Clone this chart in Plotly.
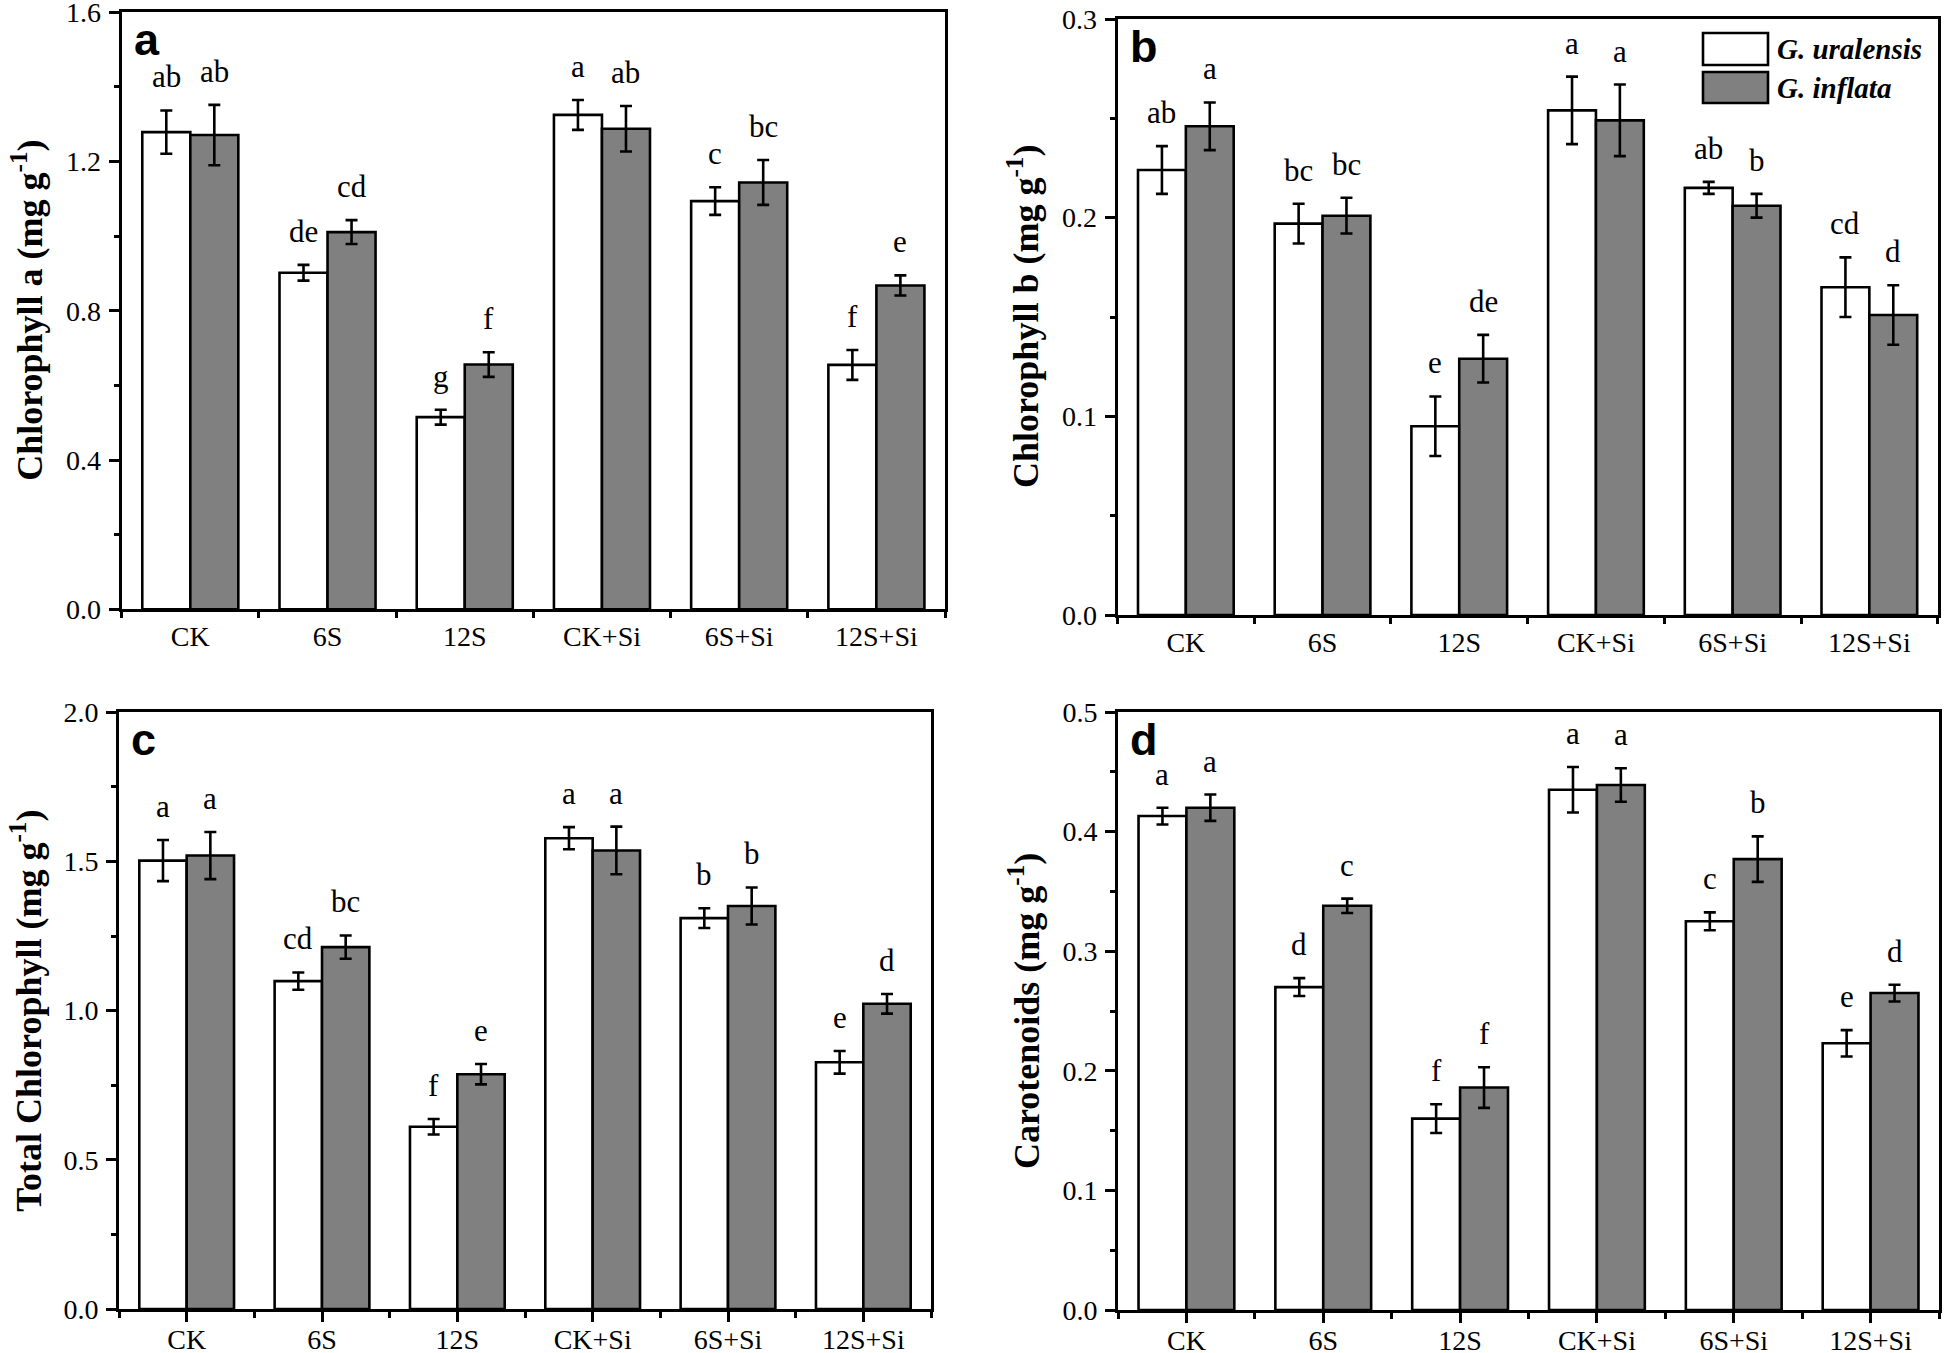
import plotly.graph_objects as go

# ---------------- data ----------------
categories = ["CK", "6S", "12S", "CK+Si", "6S+Si", "12S+Si"]
series_names = ["G. uralensis", "G. inflata"]

chla_ur = [1.279, 0.902, 0.515, 1.325, 1.094, 0.655]
chla_ur_err = [0.058, 0.021, 0.020, 0.040, 0.037, 0.040]
chla_in = [1.271, 1.011, 0.656, 1.288, 1.144, 0.868]
chla_in_err = [0.081, 0.032, 0.033, 0.061, 0.060, 0.027]
chla_ur_lbl = ["ab", "de", "g", "a", "c", "f"]
chla_in_lbl = ["ab", "cd", "f", "ab", "bc", "e"]

chlb_ur = [0.224, 0.197, 0.095, 0.254, 0.215, 0.165]
chlb_ur_err = [0.012, 0.010, 0.015, 0.017, 0.003, 0.015]
chlb_in = [0.246, 0.201, 0.129, 0.249, 0.206, 0.151]
chlb_in_err = [0.012, 0.009, 0.012, 0.018, 0.006, 0.015]
chlb_ur_lbl = ["ab", "bc", "e", "a", "ab", "cd"]
chlb_in_lbl = ["a", "bc", "de", "a", "b", "d"]

tot_ur = [1.503, 1.099, 0.611, 1.578, 1.310, 0.827]
tot_ur_err = [0.069, 0.029, 0.026, 0.037, 0.033, 0.038]
tot_in = [1.520, 1.213, 0.787, 1.537, 1.351, 1.023]
tot_in_err = [0.079, 0.039, 0.034, 0.080, 0.062, 0.033]
tot_ur_lbl = ["a", "cd", "f", "a", "b", "e"]
tot_in_lbl = ["a", "bc", "e", "a", "b", "d"]

car_ur = [0.413, 0.270, 0.160, 0.435, 0.325, 0.223]
car_ur_err = [0.007, 0.0075, 0.012, 0.019, 0.0075, 0.011]
car_in = [0.420, 0.338, 0.186, 0.439, 0.377, 0.265]
car_in_err = [0.011, 0.006, 0.017, 0.014, 0.019, 0.007]
car_ur_lbl = ["a", "d", "f", "a", "c", "e"]
car_in_lbl = ["a", "c", "f", "a", "b", "d"]

# ---------------- layout helpers ----------------
W, H = 1944, 1353
SERIF = "Liberation Serif"
SANS = "Liberation Sans"


def px(x):
    return x / W


def py(y):
    return 1 - y / H


panels = [
    dict(box=(121.7, 945, 12.3, 609.3), yr=(0, 1.6), dtick=0.4, minor=0.2,
         title="Chlorophyll a (mg g<sup>-1</sup>)", title_x=28, center_ticks=False,
         ur=chla_ur, ure=chla_ur_err, inn=chla_in, ine=chla_in_err,
         url=chla_ur_lbl, inl=chla_in_lbl, letter="a"),
    dict(box=(1117.5, 1937.7, 19, 615), yr=(0, 0.3), dtick=0.1, minor=0.05,
         title="Chlorophyll b (mg g<sup>-1</sup>)", title_x=1024, center_ticks=False,
         ur=chlb_ur, ure=chlb_ur_err, inn=chlb_in, ine=chlb_in_err,
         url=chlb_ur_lbl, inl=chlb_in_lbl, letter="b"),
    dict(box=(119, 931, 712.3, 1309), yr=(0, 2.0), dtick=0.5, minor=0.25,
         title="Total Chlorophyll (mg g<sup>-1</sup>)", title_x=27, center_ticks=True,
         ur=tot_ur, ure=tot_ur_err, inn=tot_in, ine=tot_in_err,
         url=tot_ur_lbl, inl=tot_in_lbl, letter="c"),
    dict(box=(1118, 1939, 712, 1310), yr=(0, 0.5), dtick=0.1, minor=0.05,
         title="Carotenoids (mg g<sup>-1</sup>)", title_x=1024, center_ticks=True,
         ur=car_ur, ure=car_ur_err, inn=car_in, ine=car_in_err,
         url=car_ur_lbl, inl=car_in_lbl, letter="d"),
]

fig = go.Figure()
annotations = []
shapes = []
n = len(categories)
xs = list(range(n))
layout_axes = {}

for k, p in enumerate(panels):
    idx = "" if k == 0 else str(k + 1)
    xa, ya = "x" + idx, "y" + idx
    x0, x1, ytop, ybot = p["box"]

    for vals, errs, color, nm in [(p["ur"], p["ure"], "white", series_names[0]),
                                  (p["inn"], p["ine"], "#808080", series_names[1])]:
        fig.add_trace(go.Bar(
            x=xs, y=vals, name=nm, showlegend=False,
            xaxis=xa, yaxis=ya,
            marker=dict(color=color, line=dict(color="black", width=2.6)),
            error_y=dict(type="data", array=errs, visible=True,
                         color="black", thickness=2.6, width=6),
        ))

    # significance letters
    for i in range(n):
        for off, vals, errs, lbls in [(-0.175, p["ur"], p["ure"], p["url"]),
                                      (0.175, p["inn"], p["ine"], p["inl"])]:
            annotations.append(dict(
                x=xs[i] + off, y=vals[i] + errs[i], xref=xa, yref=ya,
                text=lbls[i], showarrow=False, yanchor="bottom", xanchor="center",
                yshift=14, font=dict(family=SERIF, size=31, color="black")))

    xaxis = dict(
        domain=[px(x0), px(x1)], anchor=ya, range=[-0.5, n - 0.5],
        tickmode="array", tickvals=xs, ticktext=categories,
        ticks="outside" if p["center_ticks"] else "", ticklen=10, tickwidth=2.6,
        tickcolor="black",
        minor=dict(tickmode="array", tickvals=[i - 0.5 for i in range(n + 1)],
                   ticks="outside", ticklen=6, tickwidth=2.6, tickcolor="black"),
        showline=True, linecolor="black", linewidth=3, mirror=True,
        showgrid=False, zeroline=False, fixedrange=True, automargin=False,
        ticklabeloverflow="allow",
        tickfont=dict(family=SERIF, size=28, color="black"),
        ticklabelstandoff=-7 if p["center_ticks"] else 0,
    )
    yaxis = dict(
        domain=[py(ybot), py(ytop)], anchor=xa,
        range=[p["yr"][0], p["yr"][1] * 1.00002],
        tickmode="linear", tick0=0, dtick=p["dtick"], tickformat=".1f",
        ticks="outside", ticklen=10, tickwidth=2.6, tickcolor="black",
        minor=dict(tick0=0, dtick=p["minor"], ticks="outside", ticklen=5,
                   tickwidth=2.6, tickcolor="black"),
        showline=True, linecolor="black", linewidth=3, mirror=True,
        showgrid=False, zeroline=False, fixedrange=True, automargin=False,
        ticklabeloverflow="allow",
        tickfont=dict(family=SERIF, size=28, color="black"),
        ticklabelstandoff=2,
    )
    layout_axes["xaxis" + idx] = xaxis
    layout_axes["yaxis" + idx] = yaxis

    # y-axis title
    annotations.append(dict(
        x=px(p["title_x"]), y=py((ytop + ybot) / 2), xref="paper", yref="paper",
        text=p["title"], textangle=-90, showarrow=False,
        xanchor="center", yanchor="middle",
        font=dict(family=SERIF, size=36, color="black", weight="bold")))

    # panel letter
    annotations.append(dict(
        x=px(x0 + 10), y=py(ytop), xref="paper", yref="paper",
        text=p["letter"], showarrow=False, xanchor="left", yanchor="top",
        font=dict(family=SANS, size=45, color="black", weight="bold")))

# legend (panel b)
leg_items = [(series_names[0], "white", 33, 65), (series_names[1], "#808080", 72, 103)]
for nm, col, yt, yb in leg_items:
    shapes.append(dict(type="rect", xref="paper", yref="paper",
                       x0=px(1703), x1=px(1768), y0=py(yb), y1=py(yt),
                       fillcolor=col, line=dict(color="black", width=2.6)))
    annotations.append(dict(
        x=px(1775), y=py((yt + yb) / 2), xref="paper", yref="paper",
        text=nm, showarrow=False, xanchor="left", yanchor="middle",
        font=dict(family=SERIF, size=29, color="black", weight="bold", style="italic")))

fig.update_layout(
    width=W, height=H, margin=dict(l=0, r=0, t=0, b=0, autoexpand=False),
    paper_bgcolor="white", plot_bgcolor="white",
    barmode="group", bargap=0.3, bargroupgap=0,
    annotations=annotations, shapes=shapes, showlegend=False,
    **layout_axes,
)

# remove the browser's default 8 px body margin so the figure fills the window
fig.write_html("out.html",
               config={"displayModeBar": False},
               post_script="document.body.style.margin='0';document.body.style.overflow='hidden';")
